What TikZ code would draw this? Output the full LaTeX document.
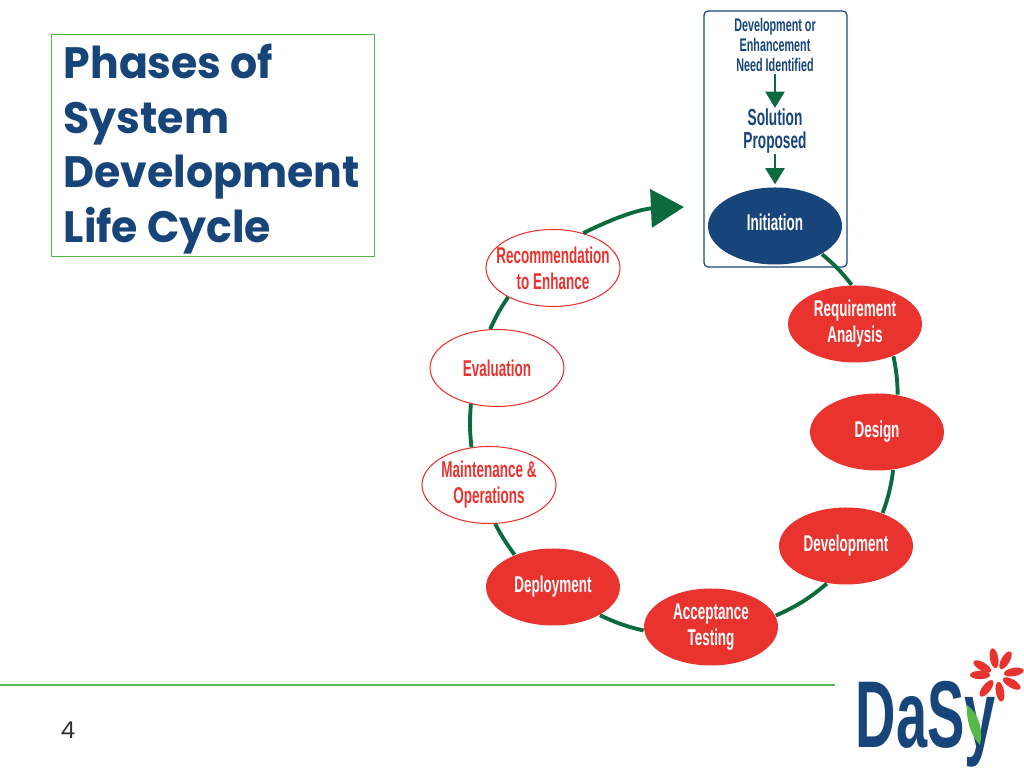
\documentclass[tikz,border=0pt]{standalone}
\usepackage{fontspec}
\setmainfont{Liberation Sans}
\newfontfamily\titlefont[FakeStretch=0.97]{Poppins}
\newfontfamily\pagefont{Poppins}
\newfontfamily\narrowfont[FakeStretch=0.59]{Liberation Sans}
\usetikzlibrary{positioning,arrows.meta,shapes.geometric}
\definecolor{dasyblue}{HTML}{17457A}
\definecolor{dasyred}{HTML}{E9332F}
\definecolor{dasygreen}{HTML}{0B6B3F}
\definecolor{rulegreen}{HTML}{55B848}
\tikzset{
  phase/.style={ellipse, minimum width=1.34cm, minimum height=0.77cm, inner xsep=-3mm, inner ysep=0pt,
    align=center, font=\narrowfont\bfseries\fontsize{6.5}{7.4}\selectfont},
  donephase/.style={phase, fill=dasyred, text=white},
  nextphase/.style={phase, draw=dasyred, line width=0.3pt, fill=white, text=dasyred},
  startnote/.style={align=center, inner sep=0pt, text=dasyblue},
  cycle/.style={draw=dasygreen, line width=1.1pt},
  steparrow/.style={draw=dasygreen, line width=0.7pt, -{Triangle[width=5.4pt,length=4.6pt]}}
}
\begin{document}
\begin{tikzpicture}
  \useasboundingbox (0,0) rectangle (10.24,7.68);

  % title
  \node[draw=rulegreen, line width=0.35pt, anchor=north west, minimum width=3.23cm, minimum height=2.22cm] (titlebox) at (0.51,7.34) {};
  \node[anchor=west, inner sep=0pt, align=left, text=dasyblue,
    font=\titlefont\bfseries\fontsize{12.5}{15.5}\selectfont] (title) at (0.63,6.19)
    {Phases of\\System\\Development\\Life Cycle};

  % start of the cycle
  \node[draw=dasyblue, line width=0.35pt, rounded corners=1.2pt, minimum width=1.43cm, minimum height=2.56cm] (startbox) at (7.755,6.29) {};
  \node[startnote, font=\narrowfont\bfseries\fontsize{5.2}{5.6}\selectfont] (need) at (7.75,7.23) {Development or\\Enhancement\\Need Identified};
  \node[startnote, font=\narrowfont\bfseries\fontsize{6.6}{6.6}\selectfont] (solution) at (7.75,6.37) {Solution\\Proposed};
  \node[phase, fill=dasyblue, text=white] (initiation) at (7.75,5.42) {\raisebox{2pt}{Initiation}};

  \draw[steparrow, shorten <=0.6pt] (need) -- (solution);
  \draw[steparrow, shorten >=0.7pt] (solution) -- (initiation);

  % phases
  \node[donephase] (requirement) at (8.55,4.44) {Requirement\\Analysis};
  \node[donephase] (design) at (8.77,3.36) {Design};
  \node[donephase] (development) at (8.46,2.22) {Development};
  \node[donephase] (acceptance) at (7.11,1.41) {Acceptance\\Testing};
  \node[donephase] (deployment) at (5.53,1.81) {Deployment};
  \node[nextphase] (maintenance) at (4.89,2.83) {Maintenance \&\\Operations};
  \node[nextphase] (evaluation) at (4.97,4.00) {Evaluation};
  \node[nextphase] (recommendation) at (5.53,5.00) {Recommendation\\to Enhance};
  \coordinate (backtip) at (6.84,5.61);

  \draw[cycle] (initiation.-31) to[bend left=6] (requirement.95);
  \draw[cycle] (requirement.-40) to[bend left=5] (design.61);
  \draw[cycle] (design.-67) to[bend left=6] (development.42);
  \draw[cycle] (development.-117) to[bend left=8] (acceptance.10);
  \draw[cycle] (acceptance.-177) to[bend left=6] (deployment.-31);
  \draw[cycle] (deployment.140) to[bend left=4] (maintenance.-81);
  \draw[cycle] (maintenance.115) to[bend left=5] (evaluation.-126);
  \draw[cycle] (evaluation.100) to[bend left=5] (recommendation.213);
  \draw[cycle, -{Triangle[width=10.8pt,length=9.4pt]}] (recommendation.49) to[bend left=12] (backtip);

  % footer
  \draw[rulegreen, line width=0.5pt] (0,0.83) -- (8.35,0.83);
  \node[text=black!80, font=\pagefont\fontsize{6.6}{8}\selectfont] (pagenum) at (0.68,0.38) {4};

  % logo
  \node[anchor=base west, inner sep=0pt, text=dasyblue, font=\narrowfont\bfseries\fontsize{27}{27}\selectfont] (logo) at (8.55,0.2) {DaSy};
  \fill[rulegreen] (9.67,0.63) .. controls (9.66,0.5) and (9.7,0.33) .. (9.8,0.23)
     .. controls (9.83,0.37) and (9.8,0.53) .. (9.67,0.63);
  \foreach \a in {10,60,100,150,180,232,280,330}
    \fill[dasyred, rotate around={\a:(9.97,0.93)}] (10.14,0.93) ellipse (0.10 and 0.042);
  \fill[white] (9.97,0.93) circle (0.07);
\end{tikzpicture}
\end{document}
